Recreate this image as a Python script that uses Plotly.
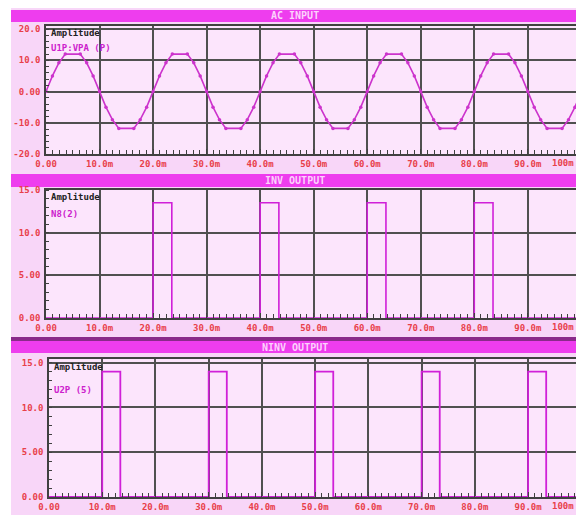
import plotly.graph_objects as go

# ---------------- data ----------------
ac_time = [0, 1.2, 2.4, 3.6, 6.4, 7.6, 8.8, 10, 11.2, 12.4, 13.6, 16.4, 17.6, 18.8,
           20, 21.2, 22.4, 23.6, 26.4, 27.6, 28.8, 30, 31.2, 32.4, 33.6, 36.4, 37.6, 38.8,
           40, 41.2, 42.4, 43.6, 46.4, 47.6, 48.8, 50, 51.2, 52.4, 53.6, 56.4, 57.6, 58.8,
           60, 61.2, 62.4, 63.6, 66.4, 67.6, 68.8, 70, 71.2, 72.4, 73.6, 76.4, 77.6, 78.8,
           80, 81.2, 82.4, 83.6, 86.4, 87.6, 88.8, 90, 91.2, 92.4, 93.6, 96.4, 97.6, 98.8,
           100]
ac_volts = [0, 5.0, 9.2, 12.0, 12.0, 9.2, 5.0, 0, -5.0, -9.0, -11.8, -11.8, -9.0, -5.0,
            0, 5.0, 9.2, 12.0, 12.0, 9.2, 5.0, 0, -5.0, -9.0, -11.8, -11.8, -9.0, -5.0,
            0, 5.0, 9.2, 12.0, 12.0, 9.2, 5.0, 0, -5.0, -9.0, -11.8, -11.8, -9.0, -5.0,
            0, 5.0, 9.2, 12.0, 12.0, 9.2, 5.0, 0, -5.0, -9.0, -11.8, -11.8, -9.0, -5.0,
            0, 5.0, 9.2, 12.0, 12.0, 9.2, 5.0, 0, -5.0, -9.0, -11.8, -11.8, -9.0, -5.0,
            0]

inv_start = [20, 40, 60, 80]
inv_end = [23.5, 43.5, 63.5, 83.5]
inv_level = 13.5

ninv_start = [10, 30, 50, 70, 90]
ninv_end = [13.4, 33.4, 53.4, 73.4, 93.4]
ninv_level = 14.0

x_tick_vals = [0, 10, 20, 30, 40, 50, 60, 70, 80, 90]
x_tick_text = ["0.00", "10.0m", "20.0m", "30.0m", "40.0m", "50.0m",
               "60.0m", "70.0m", "80.0m", "90.0m"]
x_last_label = "100m"
ac_ytick_vals = [-20, -10, 0, 10, 20]
ac_ytick_text = ["-20.0", "-10.0", "0.00", "10.0", "20.0"]
out_ytick_vals = [0, 5, 10, 15]
out_ytick_text = ["0.00", "5.00", "10.0", "15.0"]

panel_titles = ["AC INPUT", "INV OUTPUT", "NINV OUTPUT"]
axis_name = "Amplitude"
signal_names = ["U1P:VPA (P)", "N8(2)", "U2P (5)"]


def pulse_xy(starts, ends, level, t_end=100):
    xs, ys = [0], [0]
    for s, e in zip(starts, ends):
        xs += [s, s, e, e]
        ys += [0, level, level, 0]
    xs.append(t_end)
    ys.append(0)
    return xs, ys


# ---------------- styling ----------------
W, H = 576, 515
PINK = "#f8d6f8"
PLOT_BG = "#fce5fc"
BAR = "#ee3dee"
GRID = "#505050"
TRACE = "#cc33cc"
PULSE = "#d020d8"
LABEL_RED = "#e8404a"
MONO = "DejaVu Sans Mono"


def py(px):
    return 1 - px / H


def pxx(px):
    return px / W


fig = go.Figure()

fig.add_trace(go.Scatter(x=ac_time, y=ac_volts, mode="lines+markers",
                         line=dict(color=TRACE, width=1.6),
                         marker=dict(size=3.5, color=TRACE),
                         xaxis="x", yaxis="y", showlegend=False))
ix, iy = pulse_xy(inv_start, inv_end, inv_level)
fig.add_trace(go.Scatter(x=ix, y=iy, mode="lines", line=dict(color=PULSE, width=1.6),
                         xaxis="x2", yaxis="y2", showlegend=False, cliponaxis=False))
nx, ny = pulse_xy(ninv_start, ninv_end, ninv_level)
fig.add_trace(go.Scatter(x=nx, y=ny, mode="lines", line=dict(color=PULSE, width=1.8),
                         xaxis="x3", yaxis="y3", showlegend=False, cliponaxis=False))

# panel geometry in pixels: (left, top, bottom, yrange, yticks, ytext, minor_y)
panels = [
    (46, 26, 154, [-20, 21], ac_ytick_vals, ac_ytick_text, 2),
    (46, 190, 318, [0, 15], out_ytick_vals, out_ytick_text, 1),
    (49, 359, 497, [0, 15.4], out_ytick_vals, out_ytick_text, 1),
]

tickfont = dict(family=MONO, size=9, color=LABEL_RED, weight="bold")
layout_axes = {}
for i, (left, top, bot, yr, yv, yt, ymin) in enumerate(panels):
    sfx = "" if i == 0 else str(i + 1)
    layout_axes["xaxis" + sfx] = dict(
        domain=[pxx(left), 1], range=[0, 99], anchor="y" + sfx,
        tickvals=x_tick_vals, ticktext=x_tick_text, tickfont=tickfont,
        showgrid=True, gridcolor=GRID, gridwidth=1.5,
        showline=True, linecolor="#404040", linewidth=1.5, mirror=True,
        ticks="inside", ticklen=5, tickcolor="#404040",
        minor=dict(dtick=1.25, ticks="inside", ticklen=4, tickcolor="#404040",
                   showgrid=False),
        zeroline=False, fixedrange=True, automargin=False)
    layout_axes["yaxis" + sfx] = dict(
        domain=[py(bot), py(top)], range=yr, anchor="x" + sfx,
        tickvals=yv, ticktext=yt, tickfont=tickfont,
        showgrid=True, gridcolor=GRID, gridwidth=1.5,
        showline=True, linecolor="#404040", linewidth=1.5, mirror=True,
        ticks="", ticklabelstandoff=2,
        minor=dict(dtick=ymin, ticks="inside", ticklen=3, tickcolor="#404040",
                   showgrid=False),
        zeroline=False, fixedrange=True, automargin=False)

shapes = [
    # white margins left and top
    dict(type="rect", xref="paper", yref="paper", x0=0, x1=pxx(11), y0=0, y1=1,
         fillcolor="white", line=dict(width=0), layer="below"),
    dict(type="rect", xref="paper", yref="paper", x0=0, x1=1, y0=py(8), y1=1,
         fillcolor="white", line=dict(width=0), layer="below"),
    # dark separator above third panel
    dict(type="rect", xref="paper", yref="paper", x0=pxx(11), x1=1, y0=py(341), y1=py(337),
         fillcolor="#8a2a8a", line=dict(width=0), layer="below"),
]
bars = [(10, 22), (174, 187), (341, 353)]
for (t, b) in bars:
    shapes.append(dict(type="rect", xref="paper", yref="paper", x0=pxx(11), x1=1,
                       y0=py(b), y1=py(t), fillcolor=BAR, line=dict(width=0),
                       layer="below"))

annotations = []
for (t, b), title in zip(bars, panel_titles):
    annotations.append(dict(text=title, xref="paper", yref="paper", x=pxx(295),
                            y=py((t + b) / 2), xanchor="center", yanchor="middle",
                            showarrow=False,
                            font=dict(family=MONO, size=10, color="#fcd2fc",
                                      weight="bold")))
name_rows = [(33, 48), (197, 214), (367, 390)]
for (left, top, bot, *_), (ya, yn), nm in zip(panels, name_rows, signal_names):
    annotations.append(dict(text=axis_name, xref="paper", yref="paper",
                            x=pxx(left + 3), y=py(ya), xanchor="left", yanchor="middle",
                            showarrow=False,
                            font=dict(family=MONO, size=9, color="#222222",
                                      weight="bold")))
    annotations.append(dict(text=nm, xref="paper", yref="paper",
                            x=pxx(left + 3), y=py(yn), xanchor="left", yanchor="middle",
                            showarrow=False,
                            font=dict(family=MONO, size=9, color="#cc22cc",
                                      weight="bold")))
    # last tick label sits at the right edge of the panel
    annotations.append(dict(text=x_last_label, xref="paper", yref="paper",
                            x=1.0, y=py(bot + 2), xanchor="right", yanchor="top",
                            showarrow=False, font=tickfont))

fig.update_layout(
    width=W, height=H, margin=dict(l=0, r=0, t=0, b=0, autoexpand=False),
    paper_bgcolor=PINK, plot_bgcolor=PLOT_BG,
    shapes=shapes, annotations=annotations, showlegend=False,
    **layout_axes,
)

fig.write_html("out.html")
